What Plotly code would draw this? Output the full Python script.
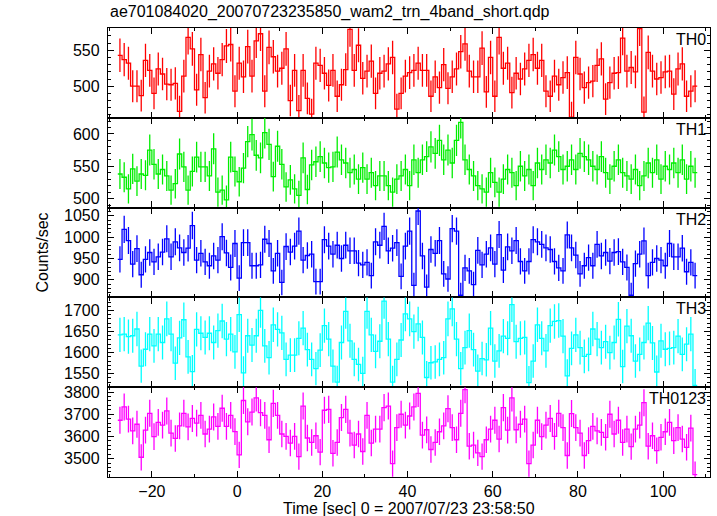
import math
import plotly.graph_objects as go
from plotly.subplots import make_subplots

title_text = "ae701084020_20070723235850_wam2_trn_4band_short.qdp"
x_title = "Time [sec] 0 = 2007/07/23 23:58:50"
y_title = "Counts/sec"

t_start = -28.0
bin_width = 1.0

th0 = [543,537,532,500,500,487,536,522,490,524,517,503,502,504,465,514,568,552,495,544,
       484,521,531,518,537,556,558,493,532,513,555,514,563,573,493,554,541,521,525,552,
       480,522,466,522,483,461,532,
       529,518,501,522,486,502,523,579,522,557,511,521,535,490,518,521,531,540,468,490,
       514,519,522,532,522,522,486,513,498,530,497,513,524,548,559,521,513,513,553,492,
       540,486,568,525,532,491,518,
       510,524,536,544,525,536,493,486,514,502,512,519,457,540,517,498,505,507,529,538,
       482,505,518,519,567,521,526,520,580,464,547,521,510,512,520,521,489,524,531,486,
       493,500]

th1 = [538,533,515,546,527,538,536,575,553,538,545,535,513,523,569,549,513,542,564,549,
       549,535,577,510,513,498,564,542,526,547,588,599,567,563,602,584,534,581,553,518,
       529,515,505,563,514,552,557,
       565,555,548,549,572,560,555,540,545,530,548,530,540,520,535,535,520,510,530,
       535,545,520,560,540,560,565,580,570,590,560,575,555,590,618,560,545,535,520,
       515,510,540,525,510,530,545,540,520,550,535,545,520,555,545,560,555,575,565,545,
       550,560,545,570,565,560,550,545,565,540,530,550,560,540,535,530,545,520,535,555,
       540,560,530,550,545,555,540,560,530,550,540]

th2 = [948,1018,992,937,973,912,948,964,942,954,965,996,954,989,975,964,974,1027,946,962,
       942,933,956,946,1001,963,929,985,904,987,987,933,933,935,995,985,921,962,894,978,
       965,979,1014,946,957,960,896,
       896,994,979,960,981,950,981,968,968,939,935,941,910,989,981,1025,968,974,987,
       908,979,1014,887,1061,956,883,971,962,992,914,902,1020,1014,864,928,921,889,969,935,
       960,975,937,1006,923,977,968,992,943,921,943,994,989,983,975,971,943,928,921,1005,
       975,958,914,933,952,933,983,956,964,944,964,966,942,929,864,938,960,991,910,941,
       950,946,933,985,954,954,974,919,941,910]

th3 = [1642,1644,1638,1640,1656,1568,1608,1644,1616,1644,1624,1680,1644,1575,1635,1678,1590,1555,1655,1646,
       1636,1646,1624,1652,1675,1632,1644,1602,1690,1552,1640,1618,1640,1700,1616,1588,1666,1655,1647,1584,
       1594,1594,1634,1658,1607,1584,1562,1606,1664,1632,1568,1530,1624,1698,1628,1584,1572,1551,1698,1642,
       1603,1627,1722,1632,1530,1584,1630,1692,
       1680,1650,1668,1636,1541,1576,1578,1584,1588,1680,1704,1632,1562,1612,1652,1607,1556,1586,1583,1658,
       1580,1604,1639,1634,1714,1626,1634,1636,1529,1580,1666,1634,1604,1664,1674,1676,1639,1545,1610,1642,
       1612,1591,1596,1656,1632,1612,1626,1600,1624,1679,1567,1663,1640,1580,1596,1624,1670,1623,1554,1628,
       1608,1610,1612,1639,1596,1620,1644,1522]

th0123 = [3673,3733,3678,3625,3655,3506,3628,3704,3599,3663,3651,3715,3615,3591,3648,3704,3643,3681,3660,3695,
          3611,3633,3688,3645,3727,3645,3695,3622,3517,3762,3666,3710,3774,3707,3695,3585,3749,3695,3611,3600,
          3570,3600,3509,3737,3593,3573,3603,3529,3718,3722,3524,3573,3685,3722,3615,3561,3611,3532,3695,3570,
          3633,3633,3730,3737,3477,3640,3700,3651,
          3692,3733,3794,3606,3630,3541,3573,3621,3648,3725,3640,3585,3704,3811,3556,3561,3526,3509,3585,3633,
          3673,3588,3730,3628,3774,3630,3655,3678,3477,3561,3673,3599,3651,3681,3600,3704,3640,3514,3703,3640,
          3615,3514,3581,3645,3625,3618,3596,3700,3611,3673,3573,3633,3554,3633,3651,3752,3556,3603,3536,3596,
          3621,3663,3581,3640,3588,3551,3637,3428]

band_names = ["TH0", "TH1", "TH2", "TH3", "TH0123"]
band_values = [th0, th1, th2, th3, th0123]
band_colors = ["#ff0000", "#00ee00", "#0000ff", "#00ffff", "#ff00ff"]
y_ranges = [[456, 581], [486, 625], [859, 1069], [1518, 1731], [3417, 3822]]
y_major = [50, 50, 50, 50, 100]
y_minor = [10, 10, 10, 10, 20]
x_range = [-30.3, 111]

FONT = "Liberation Sans, Arial, Helvetica, sans-serif"

fig = make_subplots(rows=5, cols=1, shared_xaxes=True, vertical_spacing=0)

for i, (name, vals, col) in enumerate(zip(band_names, band_values, band_colors)):
    n = len(vals)
    edges = [t_start + j * bin_width for j in range(n + 1)]
    centers = [t_start + (j + 0.5) * bin_width for j in range(n)]
    errs = [math.sqrt(v) for v in vals]
    fig.add_trace(go.Scatter(x=edges, y=vals + [vals[-1]], mode="lines",
                             line=dict(shape="hv", color=col, width=1.3),
                             showlegend=False, hoverinfo="skip"), row=i + 1, col=1)
    fig.add_trace(go.Scatter(x=centers, y=vals, mode="markers",
                             marker=dict(size=1, color=col, opacity=0),
                             error_y=dict(type="data", array=errs, color=col,
                                          thickness=1.3, width=0),
                             showlegend=False), row=i + 1, col=1)
    fig.update_yaxes(range=y_ranges[i], dtick=y_major[i], tick0=0,
                     ticks="inside", ticklen=6, tickwidth=1, tickcolor="black",
                     minor=dict(dtick=y_minor[i], ticks="inside", ticklen=3,
                                tickcolor="black", tickwidth=1),
                     showline=True, linecolor="black", linewidth=1.3, mirror="ticks",
                     showgrid=False, zeroline=False,
                     tickfont=dict(family=FONT, size=16, color="black"),
                     ticklabelstandoff=4,
                     row=i + 1, col=1)
    fig.update_xaxes(range=x_range, dtick=20, tick0=0,
                     ticks="inside", ticklen=6, tickwidth=1, tickcolor="black",
                     minor=dict(dtick=10, ticks="inside", ticklen=3,
                                tickcolor="black", tickwidth=1),
                     showline=True, linecolor="black", linewidth=1.3, mirror="ticks",
                     showgrid=False, zeroline=False,
                     tickfont=dict(family=FONT, size=16, color="black"),
                     row=i + 1, col=1)
    fig.add_annotation(text=name, xref=f"x{'' if i == 0 else i + 1} domain",
                       yref=f"y{'' if i == 0 else i + 1} domain",
                       x=1, y=1, xanchor="right", yanchor="top", xshift=-2, yshift=-1,
                       showarrow=False, font=dict(family=FONT, size=16, color="black"))

fig.add_annotation(text=title_text, xref="paper", yref="paper", x=0, y=1,
                   xanchor="left", yanchor="bottom", yshift=5, showarrow=False,
                   font=dict(family=FONT, size=16, color="black"))
fig.add_annotation(text=y_title, xref="paper", yref="paper", x=0, y=0.5,
                   xanchor="center", yanchor="middle", xshift=-66, textangle=-90,
                   showarrow=False, font=dict(family=FONT, size=16, color="black"))
fig.add_annotation(text=x_title, xref="paper", yref="paper", x=0.5, y=0,
                   xanchor="center", yanchor="middle", yshift=-31, showarrow=False,
                   font=dict(family=FONT, size=16, color="black"))

fig.update_layout(width=717, height=516, margin=dict(l=108, r=7, t=28, b=39),
                  paper_bgcolor="white", plot_bgcolor="white", showlegend=False)

# remove the browser's default body margin so the figure sits at the page origin
fig.write_html("out.html", config={"displayModeBar": False},
               post_script="document.body.style.margin='0';")
